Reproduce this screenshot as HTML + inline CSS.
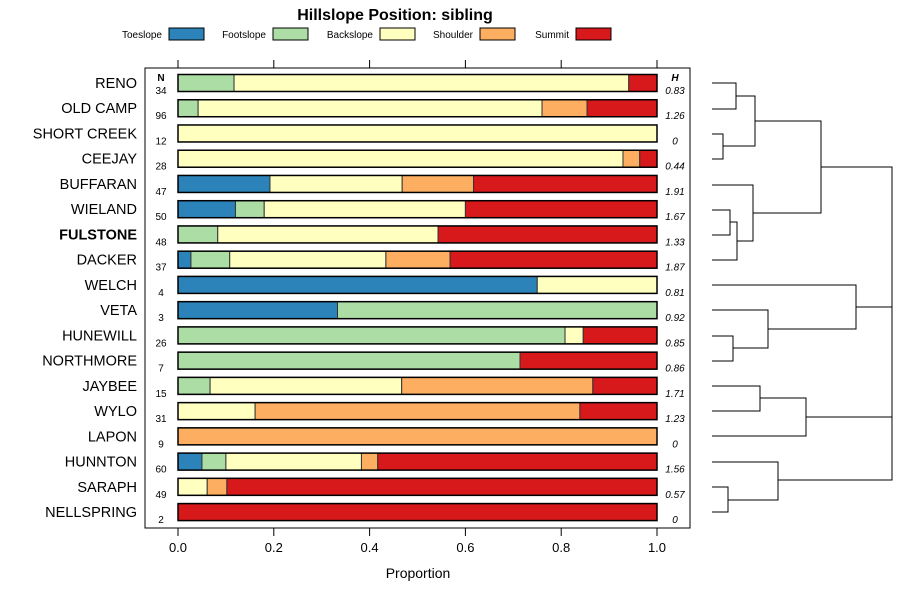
<!DOCTYPE html>
<html><head><meta charset="utf-8"><style>
body{margin:0;background:#fff;font-family:"Liberation Sans",sans-serif}
</style></head><body>
<svg width="900" height="600" viewBox="0 0 900 600" xmlns="http://www.w3.org/2000/svg" font-family="Liberation Sans, sans-serif">
<text x="395" y="20" text-anchor="middle" font-size="16" font-weight="bold">Hillslope Position: sibling</text>
<g id="legend"></g>
<rect x="145" y="68" width="545" height="460" fill="none" stroke="#000"/>
<g id="axes"></g>
<g id="bars"></g>
<g id="dendro" stroke="#000" stroke-width="1" fill="none"></g>
<text x="418" y="578" text-anchor="middle" font-size="14">Proportion</text>
</svg>
<script>
const categories=["Toeslope","Footslope","Backslope","Shoulder","Summit"];
const colors=["#2B83BA","#ABDDA4","#FFFFBF","#FDAE61","#D7191C"];
const series=["RENO","OLD CAMP","SHORT CREEK","CEEJAY","BUFFARAN","WIELAND","FULSTONE","DACKER","WELCH","VETA","HUNEWILL","NORTHMORE","JAYBEE","WYLO","LAPON","HUNNTON","SARAPH","NELLSPRING"];
const nValues=[34,96,12,28,47,50,48,37,4,3,26,7,15,31,9,60,49,2];
const hValues=["0.83","1.26","0","0.44","1.91","1.67","1.33","1.87","0.81","0.92","0.85","0.86","1.71","1.23","0","1.56","0.57","0"];
const toe=[0,0,0,0,0.192,0.12,0,0.027,0.75,0.333,0,0,0,0,0,0.05,0,0];
const foot=[0.117,0.042,0,0,0,0.06,0.083,0.081,0,0.667,0.808,0.714,0.067,0,0,0.05,0,0];
const back=[0.824,0.718,1,0.929,0.276,0.42,0.46,0.326,0.25,0,0.038,0,0.4,0.161,0,0.283,0.061,0];
const shoulder=[0,0.094,0,0.035,0.149,0,0,0.134,0,0,0,0,0.399,0.678,1,0.034,0.041,0];
const summit=[0.059,0.146,0,0.036,0.383,0.4,0.457,0.432,0,0,0.154,0.286,0.134,0.161,0,0.583,0.898,1];
const xTicks=[0,0.2,0.4,0.6,0.8,1];
const legendTextEnd=[162,266,373,473,569];
const NS="http://www.w3.org/2000/svg";
const xs=v=>178+v*479;
const ys=i=>83+i*25.24;
function mk(parent,tag,attrs,text){const e=document.createElementNS(NS,tag);for(const k in attrs)e.setAttribute(k,attrs[k]);if(text!==undefined)e.textContent=text;document.getElementById(parent).appendChild(e);return e;}
categories.forEach((c,i)=>{
 const t=mk("legend","text",{x:legendTextEnd[i],y:38,"text-anchor":"end","font-size":"10"},c);
 
 
 const r=mk("legend","rect",{x:legendTextEnd[i]+7,y:28,width:35,height:12,fill:colors[i],stroke:"#000"});
 
 
});
xTicks.forEach(v=>{
 const a=mk("axes","line",{x1:xs(v),x2:xs(v),y1:60,y2:68,stroke:"#000"});
 
 
 const b=mk("axes","line",{x1:xs(v),x2:xs(v),y1:528,y2:536,stroke:"#000"});
 
 
 const t=mk("axes","text",{x:xs(v),y:552,"text-anchor":"middle","font-size":"13"},v===0?"0.0":v===1?"1.0":v.toFixed(1));
 
 
});
let h1=mk("axes","text",{x:161,y:81,"text-anchor":"middle","font-size":"10","font-weight":"bold"},"N");


let h2=mk("axes","text",{x:675,y:81,"text-anchor":"middle","font-size":"10","font-weight":"bold","font-style":"italic"},"H");


const segs=[toe,foot,back,shoulder,summit];
series.forEach((s,i)=>{
 const y=ys(i);
 const l=mk("bars","text",{x:137,y:y+5,"text-anchor":"end","font-size":"14.5","font-weight":s==="FULSTONE"?"bold":"normal"},s);
 
 
 const n=mk("bars","text",{x:161,y:y+11,"text-anchor":"middle","font-size":"10"},String(nValues[i]));
 
 
 const h=mk("bars","text",{x:675,y:y+11,"text-anchor":"middle","font-size":"10","font-style":"italic"},hValues[i]);
 
 
 let cum=0;
 segs.forEach((arr,k)=>{
  const v=arr[i]; if(v<=0)return;
  const r=mk("bars","rect",{x:xs(cum),y:y-8.5,width:v*479,height:17,fill:colors[k],stroke:"#333","stroke-width":"1"});
  
  
  cum+=v;
 });
 const o=mk("bars","rect",{x:178,y:y-8.5,width:479,height:17,fill:"none",stroke:"#000","stroke-width":"1.5"});
 
 
});
const merges=[[736,83,712,109,712],[723,134,712,159,712],[755,96,736,146,723],
[730,210,712,235,712],[737,222,730,260,712],[753,185,712,241,737],[821,121,755,213,753],
[733,336,712,361,712],[768,310,712,348,733],[856,285,712,329,768],
[760,386,712,411,712],[806,398,760,436,712],[728,487,712,512,712],[778,462,712,500,728]];
merges.forEach(m=>{
 const p=mk("dendro","path",{d:`M${m[2]},${m[1]}H${m[0]}V${m[3]}H${m[4]}`});
 
 
});
const root=mk("dendro","path",{d:"M821,167H892V480H778M856,307H892M806,417H892"});


</script>
</body></html>
